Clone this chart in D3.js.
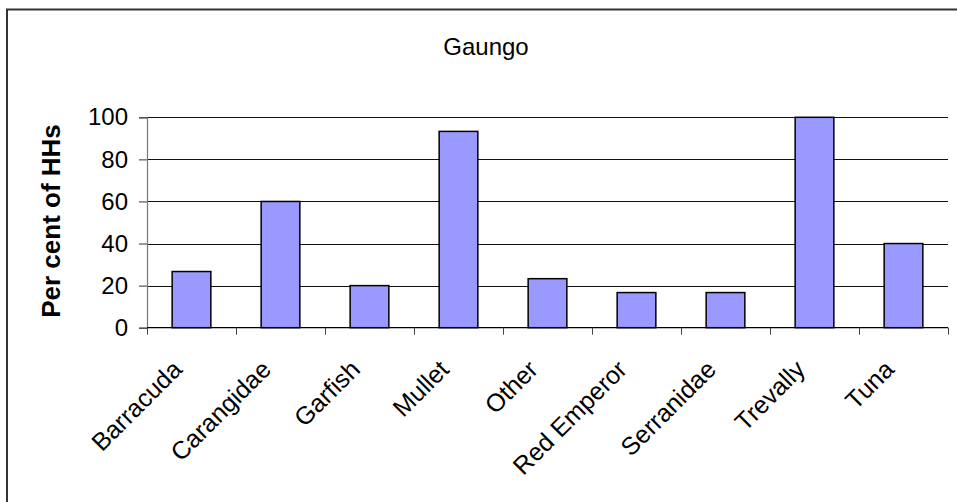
<!DOCTYPE html>
<html>
<head>
<meta charset="utf-8">
<script src="https://cdn.jsdelivr.net/npm/d3@7"></script>
<style>
  html, body { margin: 0; padding: 0; background: #fff; }
  svg { display: block; font-family: Arial, "Liberation Sans", sans-serif; }
</style>
</head>
<body>
<svg id="chart" width="957" height="502"></svg>
<script>
// Species caught, share of households (%)
const chartTitle = "Gaungo";
const yAxisTitle = "Per cent of HHs";
const categories = ["Barracuda", "Carangidae", "Garfish", "Mullet", "Other",
                    "Red Emperor", "Serranidae", "Trevally", "Tuna"];
const values = [26.7, 60, 20, 93.3, 23.3, 16.7, 16.7, 100, 40];
const yTicks = [0, 20, 40, 60, 80, 100];

const svg = d3.select("#chart");
const plot = { left: 147, right: 948, top: 117.3, bottom: 327.7 };

// Outer chart frame (partly cut off at the right and bottom)
svg.append("rect")
  .attr("x", 7).attr("y", 9.5)
  .attr("width", 1000).attr("height", 1000)
  .attr("fill", "#fff")
  .attr("stroke", "#333").attr("stroke-width", 2);

const x = d3.scaleBand().domain(categories)
  .range([plot.left, plot.right])
  .paddingInner(1.3 / 2.3).paddingOuter(0.65 / 2.3);
const xb = d3.scaleBand().domain(categories).range([plot.left, plot.right]);
const y = d3.scaleLinear().domain([0, 100]).range([plot.bottom, plot.top]);

// Horizontal gridlines
svg.append("g").selectAll("line")
  .data(yTicks.filter(d => d > 0))
  .join("line")
  .attr("x1", plot.left).attr("x2", plot.right)
  .attr("y1", d => Math.round(y(d)) + 0.5).attr("y2", d => Math.round(y(d)) + 0.5)
  .attr("stroke", "#111").attr("stroke-width", 1.2);

// Y axis
const yAxis = svg.append("g")
  .attr("transform", `translate(${plot.left},0)`)
  .call(d3.axisLeft(y).tickValues(yTicks).tickSize(8).tickPadding(11));
yAxis.select(".domain").attr("stroke", "#777").attr("stroke-width", 1.2);
yAxis.selectAll(".tick line").attr("stroke", "#333");
yAxis.selectAll(".tick text")
  .attr("font-size", 24).attr("fill", "#000")
  .attr("font-family", "Arial, 'Liberation Sans', sans-serif");

// Bars
svg.append("g").selectAll("rect")
  .data(values)
  .join("rect")
  .attr("x", (d, i) => x(categories[i]))
  .attr("width", x.bandwidth())
  .attr("y", d => y(d))
  .attr("height", d => y(0) - y(d))
  .attr("fill", "#9999FF")
  .attr("stroke", "#000").attr("stroke-width", 1.5);

// X axis with ticks at category boundaries
const xAxisG = svg.append("g")
  .attr("transform", `translate(0,${plot.bottom})`);
xAxisG.append("line")
  .attr("x1", plot.left).attr("x2", plot.right)
  .attr("stroke", "#000").attr("stroke-width", 1.2);
xAxisG.selectAll("line.tk")
  .data(categories.concat(["__end"]))
  .join("line").attr("class", "tk")
  .attr("x1", (d, i) => plot.left + i * xb.bandwidth() + 0.5)
  .attr("x2", (d, i) => plot.left + i * xb.bandwidth() + 0.5)
  .attr("y1", 0).attr("y2", 7)
  .attr("stroke", "#444");

// Rotated category labels
svg.append("g").selectAll("text")
  .data(categories)
  .join("text")
  .attr("transform", d => `translate(${xb(d) + xb.bandwidth() / 2 - 8},371) rotate(-45)`)
  .attr("text-anchor", "end")
  .attr("font-size", 25)
  .text(d => d);

// Title
svg.append("text")
  .attr("x", 486).attr("y", 55)
  .attr("text-anchor", "middle")
  .attr("font-size", 24)
  .text(chartTitle);

// Y axis title
svg.append("text")
  .attr("transform", `translate(60,221) rotate(-90)`)
  .attr("text-anchor", "middle")
  .attr("font-size", 26).attr("font-weight", "bold")
  .text(yAxisTitle);
</script>
</body>
</html>
